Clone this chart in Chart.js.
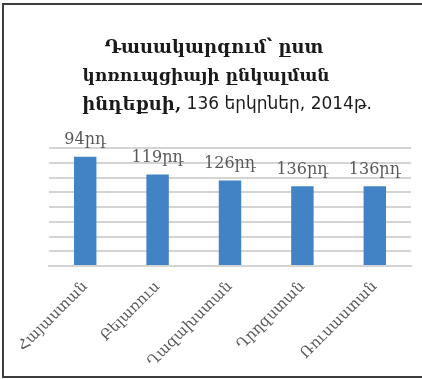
<!DOCTYPE html>
<html>
<head>
<meta charset="utf-8">
<script src="https://cdn.jsdelivr.net/npm/chart.js@4.4.1/dist/chart.umd.min.js"></script>
<style>
  html, body { margin: 0; background: #fff; overflow: hidden; }
  #frame {
    position: fixed; left: 2px; top: 3px; right: -30px; height: 371px;
    border-top: 2px solid #3c3c3c; border-bottom: 2px solid #3c3c3c; border-left: 2px solid #3c3c3c;
  }
  #rankChart { position: fixed; left: 0; top: 0; }
</style>
</head>
<body>
<div id="frame"></div>
<canvas id="rankChart" width="422" height="379"></canvas>
<script>
// CPI 2014: score drawn as bar height, place in ranking written above
var countries = ['Հայաստան', 'Բելառուս', 'Ղազախստան', 'Ղրղզստան', 'Ռուսաստան'];
var scores = [37, 31, 29, 27, 27];
var ranks = [94, 119, 126, 136, 136];
var rankSuffix = 'րդ';

var titleLines = [
    [{ text: 'Դասակարգում՝ ըստ', bold: true }],
    [{ text: 'կոռուպցիայի ընկալման', bold: true }],
    [{ text: 'ինդեքսի,', bold: true }, { text: ' 136 երկրներ, 2014թ.', bold: false }]
];

// title with mixed weights on the last line
var titleLinesPlugin = {
    id: 'titleLines',
    afterDraw: function(chart) {
        var ctx = chart.ctx;
        var lineY = [48, 77, 105];
        var lineX = [214, 206, 227];
        ctx.save();
        ctx.fillStyle = '#1a1a1a';
        ctx.textBaseline = 'middle';
        titleLines.forEach(function(parts, i) {
            var fonts = parts.map(function(p) {
                return p.bold ? 'bold 18px "DejaVu Serif"' : '17px "DejaVu Sans"';
            });
            if (i === 1) fonts[0] = 'bold 17px "DejaVu Serif"';
            var total = 0;
            parts.forEach(function(p, j) {
                ctx.font = fonts[j];
                total += ctx.measureText(p.text).width;
            });
            var x = lineX[i] - total / 2;
            parts.forEach(function(p, j) {
                ctx.font = fonts[j];
                ctx.textAlign = 'left';
                ctx.fillText(p.text, x, lineY[i]);
                x += ctx.measureText(p.text).width;
            });
        });
        ctx.restore();
    }
};

// rank labels above each bar
var rankLabelsPlugin = {
    id: 'rankLabels',
    afterDatasetsDraw: function(chart) {
        var ctx = chart.ctx;
        var meta = chart.getDatasetMeta(0);
        ctx.save();
        ctx.font = '16px "DejaVu Serif"';
        ctx.fillStyle = '#595959';
        ctx.textAlign = 'center';
        ctx.textBaseline = 'bottom';
        meta.data.forEach(function(bar, i) {
            ctx.fillText(ranks[i] + rankSuffix, bar.x, bar.y - 9);
        });
        ctx.restore();
    }
};

var ctx = document.getElementById('rankChart').getContext('2d');
var rankChart = new Chart(ctx, {
    type: 'bar',
    data: {
        labels: countries,
        datasets: [{
            data: scores,
            backgroundColor: '#4183c4',
            borderWidth: 0,
            categoryPercentage: 1,
            barPercentage: 0.31
        }]
    },
    options: {
        responsive: false,
        animation: false,
        layout: {
            padding: { left: 49, right: 11, top: 148, bottom: 0 }
        },
        scales: {
            y: {
                min: 0,
                max: 40,
                ticks: { display: false, stepSize: 5 },
                grid: { color: '#d4d4d4', lineWidth: 2, drawTicks: false },
                border: { display: false },
                afterFit: function(scale) { scale.width = 0; }
            },
            x: {
                grid: { display: false },
                border: { color: '#d4d4d4', width: 2 },
                ticks: {
                    autoSkip: false,
                    maxRotation: 45,
                    minRotation: 45,
                    padding: 4,
                    color: '#595959',
                    font: { family: 'DejaVu Serif', size: 15 }
                },
                afterFit: function(scale) { scale.height = 113; }
            }
        },
        plugins: {
            legend: { display: false },
            tooltip: { enabled: false }
        }
    },
    plugins: [titleLinesPlugin, rankLabelsPlugin]
});
</script>
</body>
</html>
